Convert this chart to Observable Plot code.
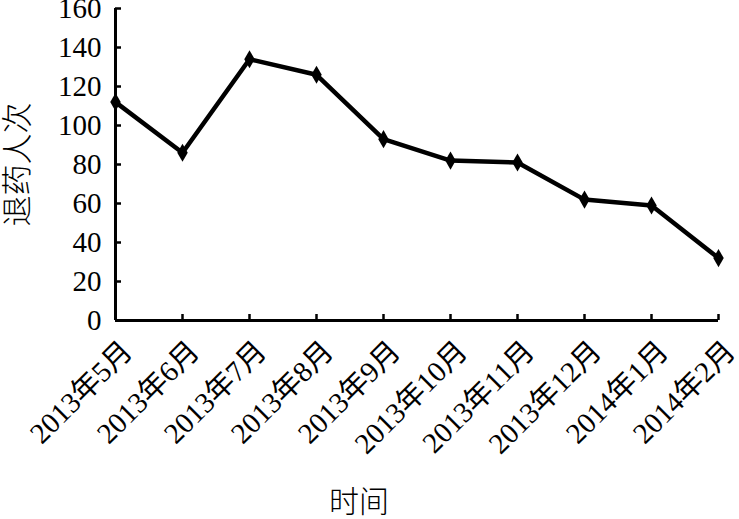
<!DOCTYPE html>
<html>
<head>
<meta charset="utf-8">
<script src="https://cdn.jsdelivr.net/npm/d3@7"></script>
<script src="https://cdn.jsdelivr.net/npm/@observablehq/plot@0.6"></script>
<style>
body { margin: 0; background: #fff; }
</style>
</head>
<body>
<div id="chart"></div>
<script>
const months = ["2013年5月","2013年6月","2013年7月","2013年8月","2013年9月","2013年10月","2013年11月","2013年12月","2014年1月","2014年2月"];
const counts = [112, 86, 134, 126, 93, 82, 81, 62, 59, 32];
const yTicks = [0, 20, 40, 60, 80, 100, 120, 140, 160];
const yTitle = "退药人次";
const xTitle = "时间";

const data = months.map((m, i) => ({month: m, value: counts[i]}));
const serif = "'Liberation Serif', 'Times New Roman', 'DejaVu Serif', 'Noto Sans CJK SC', serif";
const cjk = "'Noto Sans CJK SC', sans-serif";

const chart = Plot.plot({
  width: 739,
  height: 519,
  marginLeft: 115,
  marginRight: 21,
  marginTop: 8,
  marginBottom: 199,
  style: {fontFamily: serif, fontSize: "29px", color: "#000", background: "#fff", overflow: "visible"},
  x: {type: "point", domain: months, padding: 0},
  y: {domain: [0, 160], ticks: yTicks},
  marks: [
    Plot.axisY({ticks: yTicks, tickSize: 0, tickPadding: 14, fontSize: 29, fontFamily: serif, label: null}),
    Plot.tickY(yTicks, {y: d => d, insetRight: 597, stroke: "#000", strokeWidth: 2.5}),
    Plot.axisX({ticks: [], label: null}),
    Plot.tickX(months, {x: d => d, insetTop: 306, stroke: "#000", strokeWidth: 2.5}),
    Plot.ruleY([0], {stroke: "#000", strokeWidth: 3}),
    Plot.ruleX([months[0]], {stroke: "#000", strokeWidth: 3}),
    Plot.text(months, {x: d => d, y: 0, text: d => d, rotate: -45, textAnchor: "end", lineAnchor: "middle", dx: 12, dy: 26, fontSize: 29, fontFamily: serif}),
    Plot.line(data, {x: "month", y: "value", stroke: "#000", strokeWidth: 4.5}),
    Plot.dot(data, {x: "month", y: "value", symbol: "diamond", fill: "#000", r: 5.5}),
    Plot.text([yTitle], {text: d => d, frameAnchor: "left", textAnchor: "middle", lineAnchor: "middle", rotate: -90, dx: -97, fontSize: 31, fontFamily: cjk, fontWeight: 300}),
    Plot.text([xTitle], {text: d => d, frameAnchor: "bottom", textAnchor: "middle", lineAnchor: "middle", dx: -58, dy: 182, fontSize: 30, fontFamily: cjk, fontWeight: 300})
  ]
});
document.getElementById("chart").append(chart);
</script>
</body>
</html>
